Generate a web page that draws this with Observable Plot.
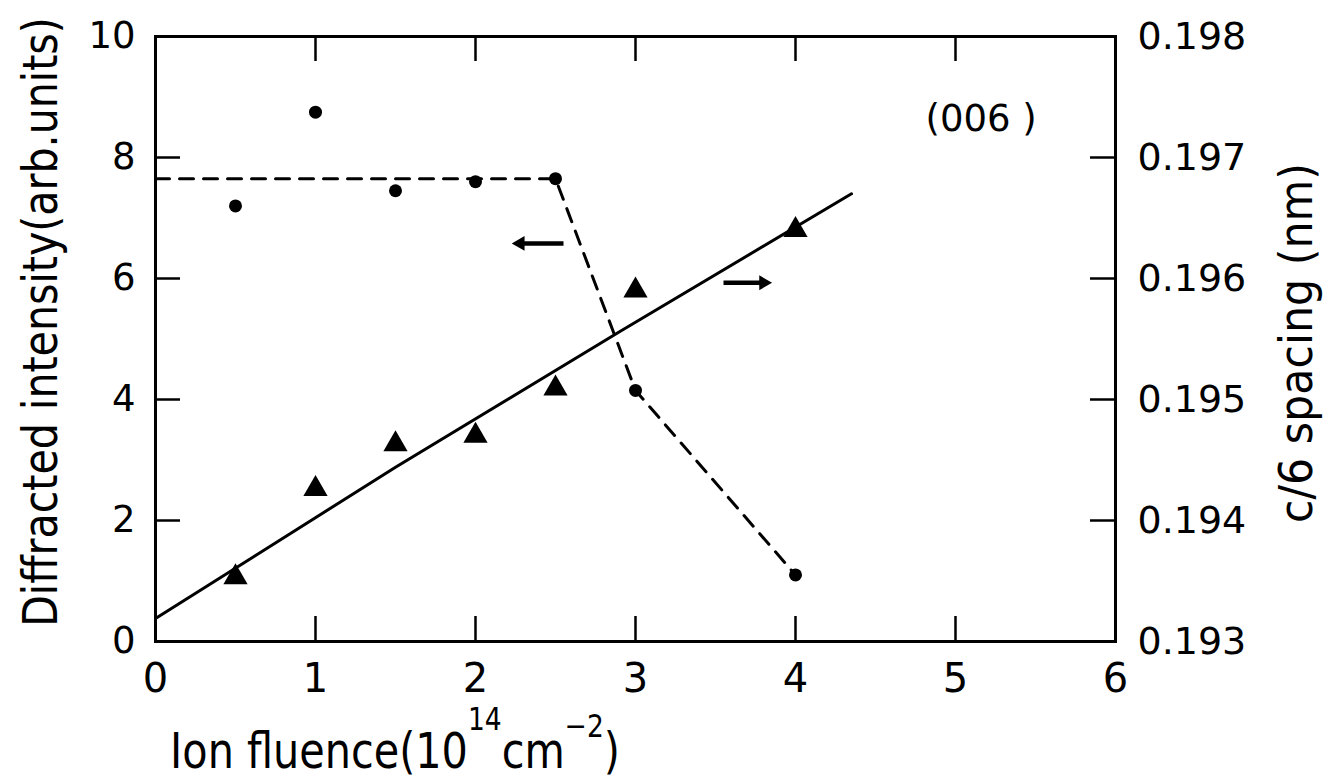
<!DOCTYPE html>
<html>
<head>
<meta charset="utf-8">
<script src="https://cdn.jsdelivr.net/npm/d3@7"></script>
<script src="https://cdn.jsdelivr.net/npm/@observablehq/plot@0.6"></script>
<style>
  html, body { margin: 0; padding: 0; background: #fff; }
  svg { display: block; }
</style>
</head>
<body>
<div id="chart"></div>
<script>
// Ion fluence (10^14 cm^-2) of each measured sample
const fluence = [0.5, 1.0, 1.5, 2.0, 2.5, 3.0, 4.0];
// (006) diffracted intensity, arb. units (left axis)
const intensity = [7.2, 8.75, 7.45, 7.6, 7.65, 4.15, 1.1];
// c/6 lattice spacing, nm (right axis)
const spacing = [0.19353, 0.19426, 0.19463, 0.19470, 0.19509, 0.19590, 0.19640];

// dashed guide through the intensity points
const guideFluence = [0, 2.5, 3.0, 4.0];
const guideIntensity = [7.65, 7.65, 4.15, 1.1];
// solid trend through the spacing points
const trendFluence = [0, 1.5, 2.9, 4.35];
const trendSpacing = [0.19319, 0.19444, 0.19556, 0.19670];

// axis ticks
const xTicks = [0, 1, 2, 3, 4, 5, 6];
const intensityTicks = [0, 2, 4, 6, 8, 10];
const spacingTicks = [0.193, 0.194, 0.195, 0.196, 0.197, 0.198];

// arrows telling which axis each series belongs to (intensity units)
const arrowTail = [2.55, 3.55];
const arrowTip = [2.28, 3.80];
const arrowLevel = [6.58, 5.93];

// spacing is drawn against the intensity scale: 0.193 nm -> 0, 0.198 nm -> 10
const spacingLo = spacingTicks[0], spacingHi = spacingTicks[spacingTicks.length - 1];
const toIntensity = s => (s - spacingLo) / (spacingHi - spacingLo) * 10;
const toSpacing = v => spacingLo + v / 10 * (spacingHi - spacingLo);

const points = fluence.map((x, i) => ({x, intensity: intensity[i], spacing: toIntensity(spacing[i])}));
const guide = guideFluence.map((x, i) => ({x, y: guideIntensity[i]}));
const trend = trendFluence.map((x, i) => ({x, y: toIntensity(trendSpacing[i])}));
const arrows = arrowTail.map((x1, i) => ({x1, x2: arrowTip[i], y: arrowLevel[i]}));

const W = 1336, H = 783;
const frameLeft = 155, frameRight = 1115, frameTop = 36, frameBottom = 641;
const innerW = frameRight - frameLeft, innerH = frameBottom - frameTop;
const font = "'DejaVu Sans', sans-serif";
const tickLen = 25;
const inner = ticks => ticks.slice(1, -1);

const plot = Plot.plot({
  width: W,
  height: H,
  marginLeft: frameLeft,
  marginRight: W - frameRight,
  marginTop: frameTop,
  marginBottom: H - frameBottom,
  x: {domain: [0, 6]},
  y: {domain: [0, 10]},
  style: {fontFamily: font, background: "#fff", color: "#000"},
  marks: [
    Plot.frame({strokeWidth: 3}),
    // short ticks pointing into the frame on all four sides
    Plot.tickX(inner(xTicks), {x: d => d, insetTop: innerH - tickLen, stroke: "#000", strokeWidth: 2.5}),
    Plot.tickX(inner(xTicks), {x: d => d, insetBottom: innerH - tickLen, stroke: "#000", strokeWidth: 2.5}),
    Plot.tickY(inner(intensityTicks), {y: d => d, insetRight: innerW - tickLen, stroke: "#000", strokeWidth: 2.5}),
    Plot.tickY(inner(spacingTicks), {y: toIntensity, insetLeft: innerW - tickLen, stroke: "#000", strokeWidth: 2.5}),
    // tick labels
    Plot.axisX({anchor: "bottom", ticks: xTicks, tickFormat: d => String(d), tickSize: 0, tickPadding: 22, fontSize: 40, label: null}),
    Plot.axisY({anchor: "left", ticks: intensityTicks, tickFormat: d => String(d), tickSize: 0, tickPadding: 20, fontSize: 37, label: null}),
    Plot.axisY({anchor: "right", ticks: spacingTicks.map(toIntensity), tickFormat: d => toSpacing(d).toFixed(3),
                tickSize: 0, tickPadding: 22, fontSize: 38, label: null}),
    // data
    Plot.line(guide, {x: "x", y: "y", stroke: "#000", strokeWidth: 3, strokeDasharray: "14,10"}),
    Plot.line(trend, {x: "x", y: "y", stroke: "#000", strokeWidth: 3}),
    Plot.dot(points, {x: "x", y: "intensity", r: 6.5, fill: "#000", stroke: "none"}),
    Plot.dot(points, {x: "x", y: "spacing", symbol: "triangle", r: 9, fill: "#000", stroke: "none"}),
    // axis-pointer arrows: thick shaft with a solid head
    Plot.link(arrows, {x1: "x1", x2: "x2", y1: "y", y2: "y", stroke: "#000", strokeWidth: 4.5}),
    Plot.dot(arrows, {x: "x2", y: "y", symbol: "triangle", r: 5.5, fill: "#000", stroke: "none",
                      rotate: d => (d.x2 < d.x1 ? -90 : 90)}),
    Plot.text([{x: 5.16, y: 8.64, label: "(006 )"}], {x: "x", y: "y", text: "label", fontSize: 37, fill: "#000"})
  ]
});

document.getElementById("chart").append(plot);

const svg = d3.select(plot);

// a rotated axis title, squeezed horizontally to the given length
function verticalTitle(text, cx, cy, size, length) {
  const t = svg.append("text")
    .attr("text-anchor", "middle")
    .attr("font-family", font)
    .attr("font-size", size)
    .attr("fill", "#000")
    .text(text);
  const natural = t.node().getComputedTextLength();
  t.attr("transform", `translate(${cx},${cy}) rotate(-90) scale(${length / natural},1)`);
}

verticalTitle("Diffracted intensity(arb.units)", 57, 322, 48, 610);
verticalTitle("c/6 spacing (nm)", 1312, 343, 46, 360);

// bottom axis title with superscripts
const xTitle = svg.append("text")
  .attr("font-family", font)
  .attr("font-size", 50)
  .attr("fill", "#000");
xTitle.append("tspan").text("Ion fluence(10");
xTitle.append("tspan").attr("font-size", 32).attr("dy", -38).text("14");
xTitle.append("tspan").attr("dy", 38).text("cm");
xTitle.append("tspan").attr("font-size", 32).attr("dy", -31).text("\u22122");
xTitle.append("tspan").attr("dy", 31).text(")");
const xTitleWidth = xTitle.node().getBBox().width;
xTitle.attr("transform", `translate(395,768) scale(${450 / xTitleWidth},1)`);
</script>
</body>
</html>
